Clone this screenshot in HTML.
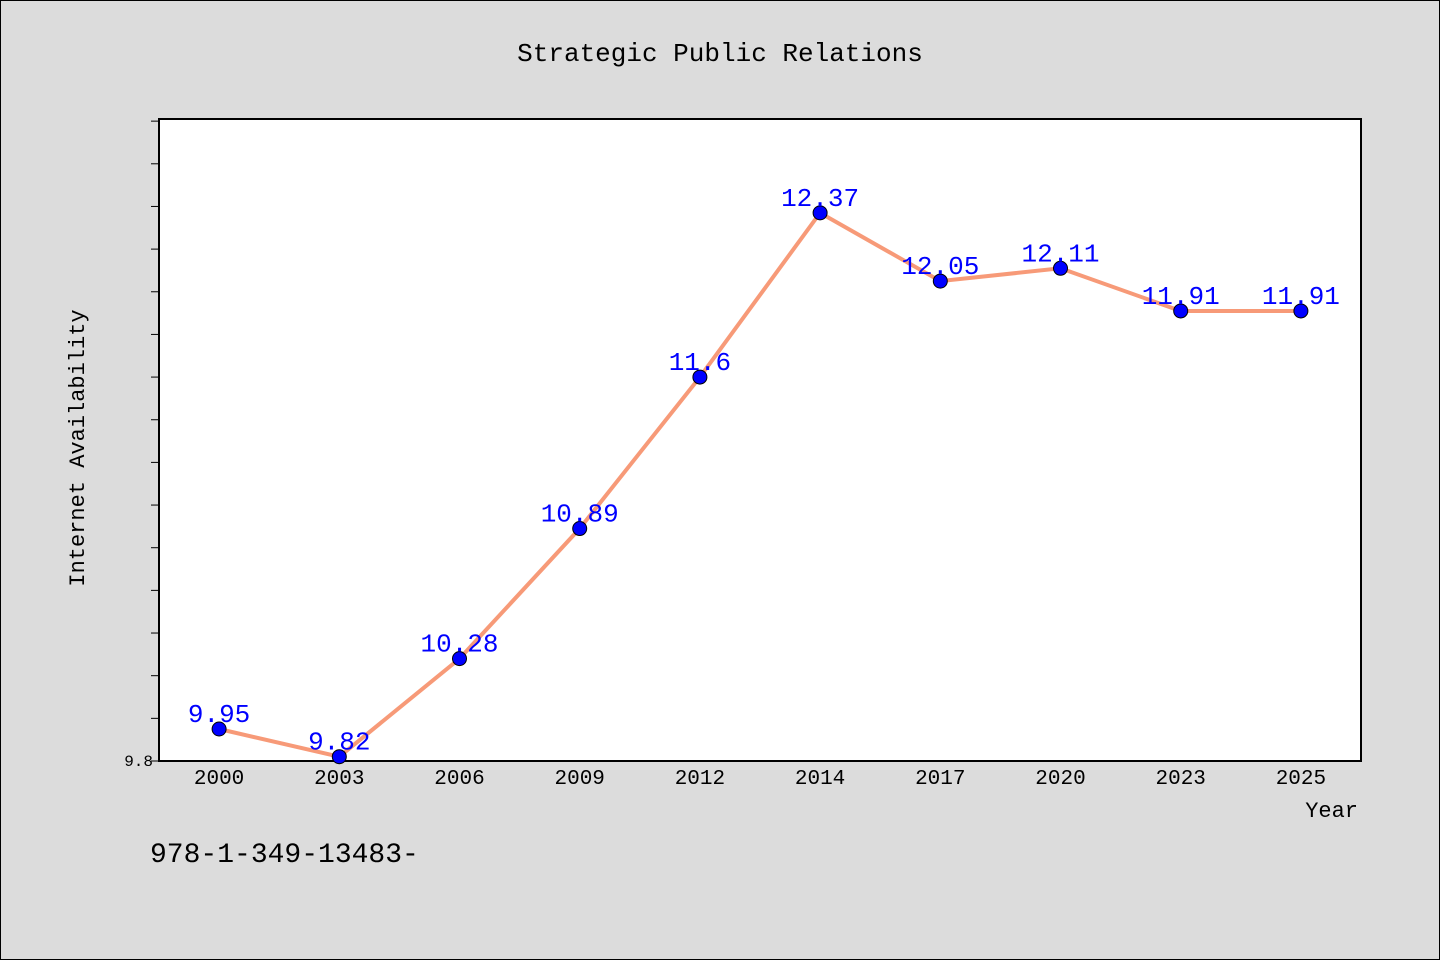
<!DOCTYPE html>
<html><head><meta charset="utf-8"><style>
body{margin:0;background:#dcdcdc;}
svg{display:block;font-family:"WenQuanYi Zen Hei","Liberation Mono",monospace;}
</style></head><body>
<svg width="1440" height="960">
<rect x="0.5" y="0.5" width="1439" height="959" fill="#dcdcdc" stroke="#000"/>
<text x="720" y="61" font-size="26" text-anchor="middle">Strategic Public Relations</text>
<rect x="159" y="119" width="1202" height="642" fill="#fff" stroke="#000" stroke-width="2"/>
<text transform="translate(84,448) rotate(-90)" font-size="22" text-anchor="middle">Internet Availability</text>
<text x="1358" y="817" font-size="22" text-anchor="end">Year</text>
<text x="150" y="862" font-size="28">978-1-349-13483-</text>
<g id="yticks"></g><g id="xticks"></g><g id="series"></g>
</svg>
<script>
const categories=["2000","2003","2006","2009","2012","2014","2017","2020","2023","2025"];
const values=[9.95,9.82,10.28,10.89,11.6,12.37,12.05,12.11,11.91,11.91];
const yMin=9.8,yMax=12.81;
const NS="http://www.w3.org/2000/svg";
const L=159,R=1361,T=119,B=761;
const band=(R-L)/categories.length;
const x=i=>L+band*(i+0.5);
const y=v=>B-(v-yMin)/(yMax-yMin)*(B-T);
function mk(t,a,p){const e=document.createElementNS(NS,t);for(const k in a)e.setAttribute(k,a[k]);p.appendChild(e);return e;}
const yt=document.getElementById('yticks');
for(let v=yMin;v<=yMax+1e-9;v+=0.2){
 const l=mk('line',{x1:L-8,x2:L,y1:y(v),y2:y(v),stroke:'#000'},yt);
 
 
}
const yl=mk('text',{x:L-6,y:B+5,'font-size':16,'text-anchor':'end'},yt);yl.textContent='9.8';


const xt=document.getElementById('xticks');
categories.forEach((c,i)=>{
 const t=mk('text',{x:x(i),y:B+23,'font-size':21,'text-anchor':'middle'},xt);t.textContent=c;
 
 
});
const s=document.getElementById('series');
const line=mk('polyline',{points:values.map((v,i)=>x(i)+','+y(v)).join(' '),fill:'none',stroke:'#f79a78','stroke-width':4},s);


values.forEach((v,i)=>{
 const c=mk('circle',{cx:x(i),cy:y(v),r:7,fill:'#0000ff',stroke:'#000','stroke-width':1},s);
 
 
 const t=mk('text',{x:x(i),y:y(v)-7,'font-size':26,'text-anchor':'middle',fill:'#0000ff'},s);t.textContent=String(v);
 
 
});
</script>
</body></html>
